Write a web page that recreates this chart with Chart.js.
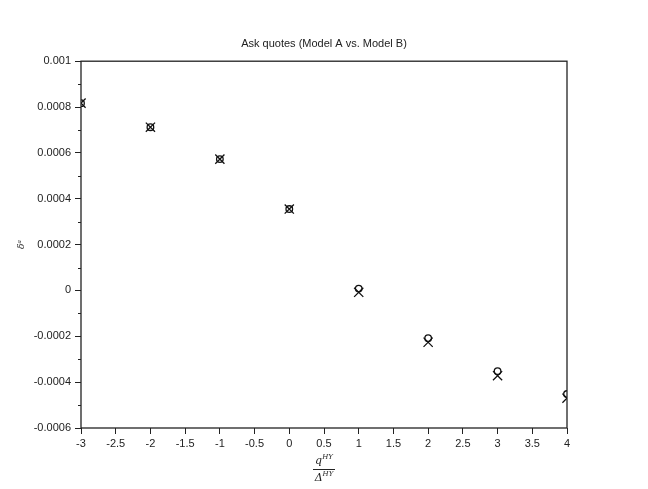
<!DOCTYPE html>
<html>
<head>
<meta charset="utf-8">
<script src="https://cdn.jsdelivr.net/npm/chart.js@4"></script>
<style>
  html, body { margin: 0; padding: 0; background: #fff; }
  #wrap { width: 648px; height: 489px; }
</style>
</head>
<body>
<div id="wrap"><canvas id="askChart" width="648" height="489"></canvas></div>
<script>
const xValues = [-3, -2, -1, 0, 1, 2, 3, 4];
const modelA = [0.000817, 0.000712, 0.000573, 0.000355, 0.000008, -0.000208, -0.000352, -0.000452];
const modelB = [0.000817, 0.000712, 0.000573, 0.000355, -0.000008, -0.000226, -0.000372, -0.00047];
const titleText = 'Ask quotes (Model A vs. Model B)';

const font = 'Liberation Sans';
const ink = '#222';

function fmt(v) {
    return String(parseFloat(v.toFixed(6)));
}

// frame, minor ticks and the fraction under the x axis
const extras = {
    id: 'extras',
    afterDraw(chart) {
        const ctx = chart.ctx;
        const a = chart.chartArea;
        const y = chart.scales.y;
        ctx.save();
        ctx.strokeStyle = ink;
        ctx.lineWidth = 1.3;
        ctx.strokeRect(a.left, a.top, a.right - a.left, a.bottom - a.top);

        ctx.lineWidth = 1;
        y.ticks.forEach(t => {
            if (Math.round(t.value * 1e4) % 2 !== 0) {
                const py = Math.round(y.getPixelForValue(t.value)) + 0.5;
                ctx.beginPath();
                ctx.moveTo(a.left - 3, py);
                ctx.lineTo(a.left, py);
                ctx.stroke();
            }
        });

        const cx = (a.left + a.right) / 2;
        ctx.fillStyle = ink;
        ctx.textBaseline = 'alphabetic';
        ctx.textAlign = 'left';
        ctx.font = 'italic 11px "DejaVu Serif"';
        const qw = ctx.measureText('q').width;
        ctx.font = 'italic 7px "DejaVu Serif"';
        const hw = ctx.measureText('HY').width;
        let x0 = cx - (qw + hw) / 2;
        ctx.font = 'italic 11px "DejaVu Serif"';
        ctx.fillText('q', x0, a.bottom + 36);
        ctx.font = 'italic 7px "DejaVu Serif"';
        ctx.fillText('HY', x0 + qw, a.bottom + 31);

        ctx.font = 'italic 11px "DejaVu Serif"';
        const dw = ctx.measureText('Δ').width;
        x0 = cx - (dw + hw) / 2;
        ctx.fillText('Δ', x0, a.bottom + 53);
        ctx.font = 'italic 7px "DejaVu Serif"';
        ctx.fillText('HY', x0 + dw, a.bottom + 48);

        ctx.beginPath();
        ctx.moveTo(cx - 11, a.bottom + 41.5);
        ctx.lineTo(cx + 11, a.bottom + 41.5);
        ctx.stroke();
        ctx.restore();
    }
};

new Chart(document.getElementById('askChart'), {
    type: 'scatter',
    data: {
        datasets: [{
            label: 'Model A',
            data: xValues.map((x, i) => ({ x: x, y: modelA[i] })),
            pointStyle: 'circle',
            pointRadius: 3.3,
            borderColor: '#111',
            backgroundColor: 'rgba(0,0,0,0)',
            borderWidth: 1.3,
            clip: 0
        }, {
            label: 'Model B',
            data: xValues.map((x, i) => ({ x: x, y: modelB[i] })),
            pointStyle: 'crossRot',
            pointRadius: 6.5,
            borderColor: '#111',
            borderWidth: 1.3,
            clip: 0
        }]
    },
    options: {
        responsive: false,
        animation: false,
        layout: { padding: 0 },
        plugins: {
            legend: { display: false },
            tooltip: { enabled: false },
            title: {
                display: true,
                text: titleText,
                color: ink,
                font: { family: font, size: 11, weight: 'normal' },
                padding: { top: 37, bottom: 11 }
            }
        },
        scales: {
            x: {
                type: 'linear',
                min: -3,
                max: 4,
                grid: { drawOnChartArea: false, tickLength: 6, color: ink, tickColor: ink },
                border: { display: false },
                ticks: {
                    stepSize: 0.5,
                    color: ink,
                    padding: 3,
                    maxRotation: 0,
                    autoSkip: false,
                    font: { family: font, size: 11 },
                    callback: v => fmt(v)
                },
                afterFit: s => { s.height = 61; }
            },
            y: {
                type: 'linear',
                min: -0.0006,
                max: 0.001,
                grid: {
                    drawOnChartArea: false,
                    tickLength: 6,
                    tickColor: c => (Math.round(c.tick.value * 1e4) % 2 === 0 ? ink : 'rgba(0,0,0,0)')
                },
                border: { display: false },
                ticks: {
                    stepSize: 0.0001,
                    color: ink,
                    padding: 4,
                    autoSkip: false,
                    font: { family: font, size: 11 },
                    callback: v => (Math.round(v * 1e4) % 2 === 0 ? fmt(v) : '')
                },
                title: {
                    display: true,
                    text: 'δᵃ',
                    color: ink,
                    font: { family: 'DejaVu Serif', size: 9, style: 'italic' },
                    padding: { top: 16, bottom: 0 }
                },
                afterFit: s => { s.width = 81; }
            },
            y2: {
                type: 'linear',
                position: 'right',
                display: true,
                grid: { display: false },
                border: { display: false },
                ticks: { display: false },
                afterFit: s => { s.width = 81; }
            }
        }
    },
    plugins: [extras]
});
</script>
</body>
</html>
